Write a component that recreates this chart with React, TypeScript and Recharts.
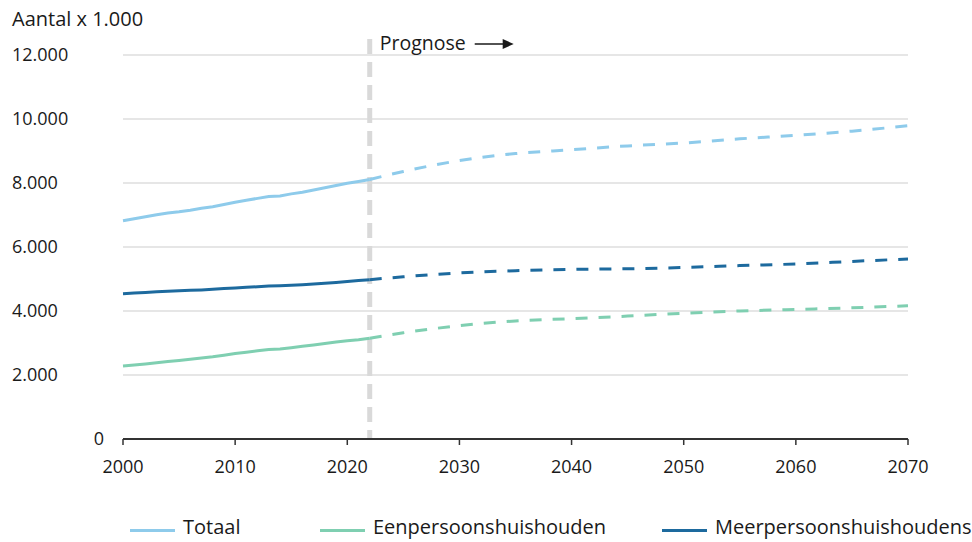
import React from "react";
import {
  LineChart, Line, XAxis, YAxis, CartesianGrid, ReferenceLine,
} from "recharts";

// Observed (solid) part
const HIST_YEARS = [
  2000, 2001, 2002, 2003, 2004, 2005, 2006, 2007, 2008, 2009, 2010, 2011,
  2012, 2013, 2014, 2015, 2016, 2017, 2018, 2019, 2020, 2021, 2022,
];
const TOTAAL_HIST = [
  6820, 6880, 6945, 7010, 7060, 7100, 7150, 7210, 7260, 7330, 7400, 7460,
  7520, 7575, 7595, 7660, 7710, 7780, 7850, 7920, 7990, 8050, 8110,
];
const EEN_HIST = [
  2280, 2310, 2345, 2380, 2420, 2455, 2490, 2530, 2570, 2620, 2670, 2710,
  2755, 2795, 2810, 2855, 2895, 2940, 2985, 3030, 3070, 3100, 3150,
];
const MEER_HIST = [
  4540, 4560, 4580, 4600, 4615, 4630, 4645, 4660, 4680, 4700, 4720, 4740,
  4760, 4780, 4790, 4805, 4820, 4840, 4865, 4890, 4920, 4950, 4980,
];

// Prognose (dashed) part
const PROG_YEARS = [2022, 2025, 2030, 2035, 2040, 2045, 2050, 2055, 2060, 2065, 2070];
const TOTAAL_PROG = [8110, 8360, 8700, 8920, 9040, 9160, 9250, 9380, 9490, 9620, 9790];
const EEN_PROG = [3150, 3320, 3540, 3690, 3760, 3840, 3930, 4000, 4050, 4100, 4165];
const MEER_PROG = [4980, 5070, 5190, 5260, 5300, 5320, 5360, 5420, 5470, 5550, 5625];

const X_TICKS = [2000, 2010, 2020, 2030, 2040, 2050, 2060, 2070];
const Y_TICKS = [0, 2000, 4000, 6000, 8000, 10000, 12000];
const PROGNOSE_YEAR = 2022;

const SERIES = [
  { name: "Totaal", hist: "totaalH", prog: "totaalP", color: "#8ecbeb", legendX: 130 },
  { name: "Eenpersoonshuishouden", hist: "eenH", prog: "eenP", color: "#7fcfb1", legendX: 320 },
  { name: "Meerpersoonshuishoudens", hist: "meerH", prog: "meerP", color: "#1d6a9e", legendX: 662 },
];

const FONT = "'Open Sans', sans-serif";
const TEXT = "#1a1a1a";

type Row = { year: number; [k: string]: number };

function buildData(): Row[] {
  const rows: Record<number, Row> = {};
  const get = (y: number) => (rows[y] ??= { year: y });
  HIST_YEARS.forEach((y, i) => {
    const r = get(y);
    r.totaalH = TOTAAL_HIST[i];
    r.eenH = EEN_HIST[i];
    r.meerH = MEER_HIST[i];
  });
  PROG_YEARS.forEach((y, i) => {
    const r = get(y);
    r.totaalP = TOTAAL_PROG[i];
    r.eenP = EEN_PROG[i];
    r.meerP = MEER_PROG[i];
  });
  return Object.values(rows).sort((a, b) => a.year - b.year);
}

const data = buildData();

const fmt = (v: number) => v.toLocaleString("nl-NL");

function YTick(props: any) {
  const { y, payload } = props;
  const zero = payload.value === 0;
  return (
    <text
      x={zero ? 104 : 12}
      y={y}
      dy="0.35em"
      textAnchor={zero ? "end" : "start"}
      fill={TEXT}
      fontSize={18}
      fontFamily={FONT}
    >
      {fmt(payload.value)}
    </text>
  );
}

// dashed marker that reaches a bit above the plot, with the "Prognose" label
function PrognoseLine(props: any) {
  const { x1, y1, y2 } = props;
  const top = Math.min(y1, y2) - 16;
  const bottom = Math.max(y1, y2);
  const ty = top + 4;
  return (
    <g>
      <line x1={x1} x2={x1} y1={top} y2={bottom} stroke="#d9d9d9" strokeWidth={5} strokeDasharray="15 8" />
      <text x={x1 + 10} y={ty} dy="0.35em" fill={TEXT} fontSize={19.5} fontFamily={FONT}>
        Prognose
      </text>
      <line x1={x1 + 105} x2={x1 + 136} y1={ty + 1} y2={ty + 1} stroke={TEXT} strokeWidth={1.5} />
      <polygon
        points={`${x1 + 133},${ty - 4} ${x1 + 144},${ty + 1} ${x1 + 133},${ty + 6}`}
        fill={TEXT}
      />
    </g>
  );
}

export default function App() {
  return (
    <div style={{ position: "absolute", left: 0, top: 0, width: 972, height: 542, background: "#fff" }}>
      <div
        style={{
          position: "absolute", left: 12, top: 5, fontFamily: FONT, fontSize: 20, color: TEXT,
        }}
      >
        Aantal x 1.000
      </div>

      <LineChart
        width={972}
        height={542}
        data={data}
        margin={{ top: 55, right: 64, left: 0, bottom: 73 }}
      >
        <CartesianGrid vertical={false} stroke="#e6e6e6" strokeWidth={2} />
        <XAxis
          dataKey="year"
          type="number"
          domain={[2000, 2070]}
          ticks={X_TICKS}
          height={30}
          axisLine={{ stroke: "#333", strokeWidth: 2 }}
          tickLine={{ stroke: "#333", strokeWidth: 1.5 }}
          tickSize={6}
          tickMargin={15}
          tick={{ fontSize: 18, fill: TEXT, fontFamily: FONT }}
        />
        <YAxis
          domain={[0, 12000]}
          ticks={Y_TICKS}
          width={123}
          axisLine={false}
          tickLine={false}
          tick={<YTick />}
        />
        <ReferenceLine x={PROGNOSE_YEAR} shape={<PrognoseLine />} />
        {SERIES.map((s) => (
          <Line
            key={s.hist}
            dataKey={s.hist}
            stroke={s.color}
            strokeWidth={3}
            dot={false}
            type="linear"
            isAnimationActive={false}
          />
        ))}
        {SERIES.map((s) => (
          <Line
            key={s.prog}
            dataKey={s.prog}
            stroke={s.color}
            strokeWidth={3}
            strokeDasharray="12 11"
            dot={false}
            type="monotone"
            connectNulls
            isAnimationActive={false}
          />
        ))}
      </LineChart>

      {SERIES.map((s) => (
        <div
          key={s.name}
          style={{
            position: "absolute", left: s.legendX, top: 514, display: "flex", alignItems: "center",
            fontFamily: FONT, fontSize: 20, lineHeight: "26px", color: TEXT, whiteSpace: "nowrap",
          }}
        >
          <span style={{ display: "inline-block", width: 45, height: 3, background: s.color, marginRight: 8, marginTop: 6 }} />
          {s.name}
        </div>
      ))}
    </div>
  );
}
